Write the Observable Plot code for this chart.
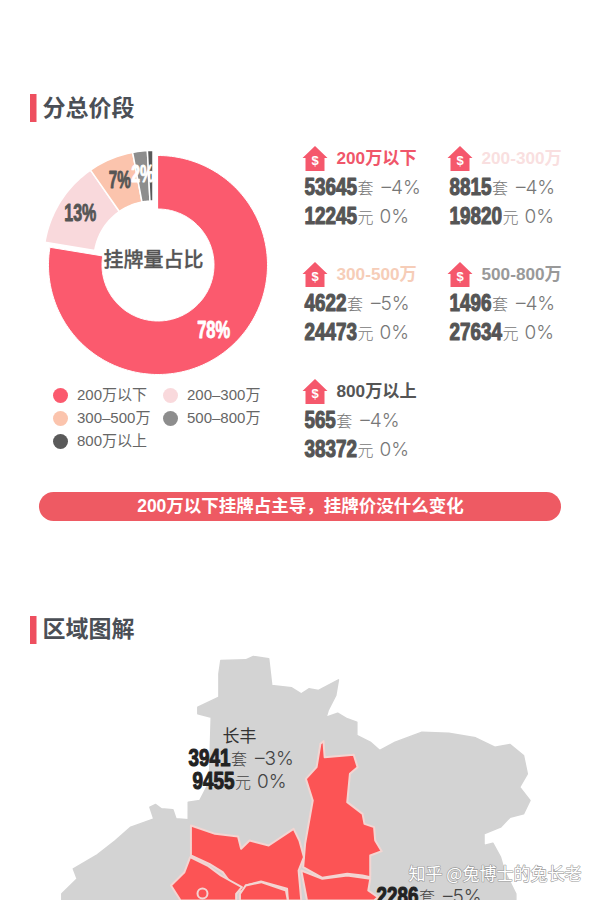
<!DOCTYPE html>
<html><head><meta charset="utf-8">
<style>html,body{margin:0;padding:0;background:#fff}svg{display:block}</style>
<script src="https://cdn.jsdelivr.net/npm/d3@7"></script>
<script src="https://cdn.jsdelivr.net/npm/@observablehq/plot@0.6"></script>
</head><body><div id="chart"></div>
<script>
// ---- data ----
const bands = ["200万以下","200-300万","300-500万","500-800万","800万以上"];
const legendLabels = ["200万以下","200–300万","300–500万","500–800万","800万以上"];
const listings = [53645,8815,4622,1496,565];
const listingChange = ["–4%","–4%","–5%","–4%","–4%"];
const prices = [12245,19820,24473,27634,38372];
const priceChange = ["0%","0%","0%","0%","0%"];
const shareLabels = ["78%","13%","7%","2%",""];
const regionName = "长丰";
const regionListings = [3941,2286];
const regionChange = ["–3%","–5%"];
const regionPrice = 9455;
const regionPriceChange = "0%";
const sections = ["分总价段","区域图解"];
const banner = "200万以下挂牌占主导\uFF0C挂牌价没什么变化";
const donutTitle = "挂牌量占比";
const watermark = "知乎 @兔博士的兔长老";

// map outlines
const outlineGrey = [[575,180],[640,178],[660,168],[700,175],[708,255],[760,262],[785,280],[805,265],[830,270],[882,238],[875,285],[855,330],[850,350],[880,338],[905,355],[930,365],[930,405],[965,425],[990,450],[1030,425],[1100,395],[1170,398],[1240,412],[1290,440],[1330,432],[1365,465],[1375,520],[1355,560],[1382,600],[1365,640],[1330,650],[1305,680],[1262,700],[1262,735],[1285,728],[1305,770],[1315,810],[1345,880],[1345,900],[160,900],[160,880],[200,835],[190,805],[250,765],[300,720],[340,680],[400,655],[390,620],[405,612],[420,625],[450,628],[458,655],[490,658],[490,605],[520,600],[545,545],[550,350],[515,340],[515,320],[570,290],[570,220]];
const outlineRed = [
 [[835,430],[843,422],[846,470],[922,463],[932,500],[912,520],[905,605],[945,640],[950,670],[975,680],[978,720],[995,752],[965,765],[965,830],[945,825],[905,820],[840,832],[790,800],[795,730],[815,600],[797,535],[825,500]],
 [[497,675],[560,700],[620,708],[628,745],[650,720],[700,735],[765,685],[780,720],[792,770],[778,810],[785,900],[750,900],[748,865],[680,843],[640,855],[640,875],[615,870],[580,815],[545,790],[497,765]],
 [[495,770],[540,795],[575,825],[630,860],[615,880],[615,900],[470,900],[445,855],[480,815]],
 [[640,855],[680,845],[745,870],[750,900],[625,900],[625,880]],
 [[785,810],[840,835],[905,825],[965,835],[960,870],[985,890],[975,900],[800,900]]
];

// ---- styles & layout ----
const bandFill = ["#fb5a6e","#f9d9dc","#fbc4ad","#8d8d8d","#5a5a5a"];
const titleFill = ["#f0566a","#f9dfe0","#f6cdb8","#999999","#555555"];
const cjk = "'Liberation Sans','Noto Sans CJK SC',sans-serif";
const heavy = "'Liberation Sans',sans-serif";
const thin = "Inter,'Noto Sans',sans-serif";
const cardCols = [304,449], cardRows = [158,274,391];
const digitW = 10.6;
const toPage = ([x,y]) => ({x:x/2.61, y:600+y/3});

// ---- derived tables ----
const flat = (rings, fill, prefix) => rings.flatMap((r,i)=>r.map(p=>({...toPage(p),id:prefix+i,fill})));
const mapGrey = flat([outlineGrey],"#d3d3d3","g");
const mapRed = flat(outlineRed,"#fc5455","r");

const pie = d3.pie().sort(null)(listings);
const donut = pie.flatMap((s,i)=>{
  const cx = i===0?157.5:152.5, cy = i===0?264.5:259.5, R = 109.5, r = i===0?56:59;
  const n = Math.max(4,Math.ceil((s.endAngle-s.startAngle)*40));
  const angs = d3.range(n+1).map(k=>s.startAngle+(s.endAngle-s.startAngle)*k/n);
  const pts = [...angs.map(a=>[R,a]),...angs.slice().reverse().map(a=>[r,a])];
  return pts.map(([q,a])=>({id:i,fill:bandFill[i],x:cx+q*Math.sin(a),y:cy-q*Math.cos(a)}));
});
const labelWidth = {"78%":33,"13%":32,"7%":22,"2%":23};
const donutLabels = pie.slice(0,4).map((s,i)=>{
  const m=(s.startAngle+s.endAngle)/2, q=86, cx=i===0?157.5:152.5, cy=i===0?264.5:259.5;
  return {x:cx+q*Math.sin(m),y:cy-q*Math.cos(m),t:shareLabels[i],fill:(i===0||i===3)?"#ffffff":"#555555"};
});

const cards = bands.map((b,i)=>({
  b,i,
  x0:cardCols[i%2], y0:cardRows[Math.floor(i/2)],
  color:titleFill[i]
}));
const house = {draw(c,size){const s=Math.sqrt(size/Math.PI);
  c.moveTo(0,-1.25*s);c.lineTo(1.25*s,-0.05*s);c.lineTo(0.95*s,-0.05*s);c.lineTo(0.95*s,1.25*s);c.lineTo(-0.95*s,1.25*s);c.lineTo(-0.95*s,-0.05*s);c.lineTo(-1.25*s,-0.05*s);c.closePath();}};

// value rows: number + unit + change
const rows = [];
const addRow = (n,unit,chg,x0,y,fill,sub) => {
  const w = digitW*String(n).length, ux = x0+w;
  rows.push({n:String(n),unit,chg,x0,ux,px:ux+16+(unit==="套"?8:6),y,fill,sub});
};
cards.forEach(c=>{
  addRow(listings[c.i],"套",listingChange[c.i],c.x0,c.y0+29,"#555555","#777777");
  addRow(prices[c.i],"元",priceChange[c.i],c.x0,c.y0+58,"#555555","#777777");
});
addRow(regionListings[0],"套",regionChange[0],188,758,"#222222","#444444");
addRow(regionPrice,"元",regionPriceChange,192,781,"#222222","#444444");
addRow(regionListings[1],"套",regionChange[1],376,896,"#222222","#444444");

const legend = legendLabels.map((t,i)=>({t,i,x:[60,170][i%2],y:[395,418,441][Math.floor(i/2)]}));
const heads = sections.map((t,i)=>({t,y1:[94,616][i],y2:[122,644][i],y:[108,629][i]}));

const chart = Plot.plot({
  width:600,height:900,margin:0,
  x:{domain:[0,600],range:[0,600],axis:null},
  y:{domain:[0,900],range:[0,900],axis:null},
  color:{type:"identity"},
  style:{background:"#fff"},
  marks:[
    // section heads
    Plot.rect(heads,{x1:()=>30,x2:()=>36.5,y1:"y1",y2:"y2",fill:"#ee4f5f"}),
    Plot.text(heads,{x:()=>42,y:"y",text:"t",textAnchor:"start",fontSize:23,fontWeight:700,fill:"#4b4f56",fontFamily:"'Noto Sans CJK SC',sans-serif"}),
    // donut
    Plot.line(donut.filter(d=>d.id!==0),{x:"x",y:"y",z:"id",fill:"fill",stroke:"#fff",strokeWidth:1.5,curve:"linear-closed"}),
    Plot.line(donut.filter(d=>d.id===0),{x:"x",y:"y",z:"id",fill:"fill",stroke:"#fff",strokeWidth:1,curve:"linear-closed"}),
    Plot.text(donutLabels,{className:"pct",x:"x",y:"y",text:"t",fill:"fill",stroke:"fill",strokeWidth:0.9,fontSize:23,fontWeight:700,fontFamily:heavy}),
    Plot.text([donutTitle],{x:()=>153,y:()=>260,text:d=>d,fontSize:20,fontWeight:500,fill:"#555555",stroke:"#555555",strokeWidth:0.3,fontFamily:"'Noto Sans CJK SC',sans-serif"}),
    // legend
    Plot.dot(legend,{x:"x",y:"y",r:7.5,fill:d=>bandFill[d.i],stroke:null}),
    Plot.text(legend,{x:d=>d.x+16.5,y:"y",text:"t",textAnchor:"start",fontSize:15,fill:"#666666",fontFamily:cjk}),
    // cards
    Plot.dot(cards,{x:d=>d.x0+10.5,y:"y0",r:10,symbol:house,fill:"#f5586c",stroke:null}),
    Plot.text(cards,{x:d=>d.x0+10.5,y:d=>d.y0+2.5,text:()=>"$",fill:"#fff",fontSize:13,fontWeight:700,fontFamily:heavy}),
    Plot.text(cards,{x:d=>d.x0+32,y:"y0",text:"b",textAnchor:"start",fill:"color",fontSize:17.2,fontWeight:700,fontFamily:cjk}),
    // banner
    Plot.rect([banner],{x1:()=>39,x2:()=>561,y1:()=>492,y2:()=>521,rx:14.5,fill:"#ee5a63"}),
    Plot.text([banner],{x:()=>300,y:()=>506,text:d=>d,fill:"#fff",fontSize:17.5,fontWeight:700,fontFamily:cjk}),
    // map
    Plot.line(mapGrey,{x:"x",y:"y",z:"id",fill:"fill",stroke:"fill",curve:"linear-closed"}),
    Plot.line(mapRed,{x:"x",y:"y",z:"id",fill:"fill",stroke:"#f3d5d2",strokeWidth:2,curve:"linear-closed"}),
    Plot.dot([0],{x:()=>202,y:()=>893,r:5,fill:"none",stroke:"#f3d5d2",strokeWidth:2}),
    Plot.text([regionName],{x:()=>239,y:()=>736,text:d=>d,fontSize:17,fill:"#333333",fontFamily:cjk}),
    // value rows
    Plot.text(rows,{className:"num",x:"x0",y:"y",text:"n",textAnchor:"start",fill:"fill",stroke:"fill",strokeWidth:1.1,fontSize:23,fontWeight:700,fontFamily:heavy}),
    Plot.text(rows,{x:"ux",y:d=>d.y+1,text:"unit",textAnchor:"start",fill:"sub",fontSize:16,fontWeight:300,fontFamily:cjk}),
    Plot.text(rows,{x:"px",y:"y",text:"chg",textAnchor:"start",fill:"sub",fontSize:19,fontWeight:300,fontFamily:thin}),
    // watermark
    Plot.text([watermark],{x:()=>408,y:()=>874,text:d=>d,textAnchor:"start",fill:"#ffffff",stroke:"#9a9a9a",strokeWidth:1.2,fontSize:17,fontFamily:"'Noto Sans CJK SC',sans-serif"})
  ]
});
// condense the heavy figures to the widths they have in the picture
d3.select(chart).selectAll(".num text").each(function(){
  this.setAttribute("textLength", digitW*this.textContent.length - 0.5);
  this.setAttribute("lengthAdjust","spacingAndGlyphs");
});
d3.select(chart).selectAll(".pct text").each(function(){
  this.setAttribute("textLength", labelWidth[this.textContent]);
  this.setAttribute("lengthAdjust","spacingAndGlyphs");
});
document.getElementById("chart").append(chart);
</script></body></html>
